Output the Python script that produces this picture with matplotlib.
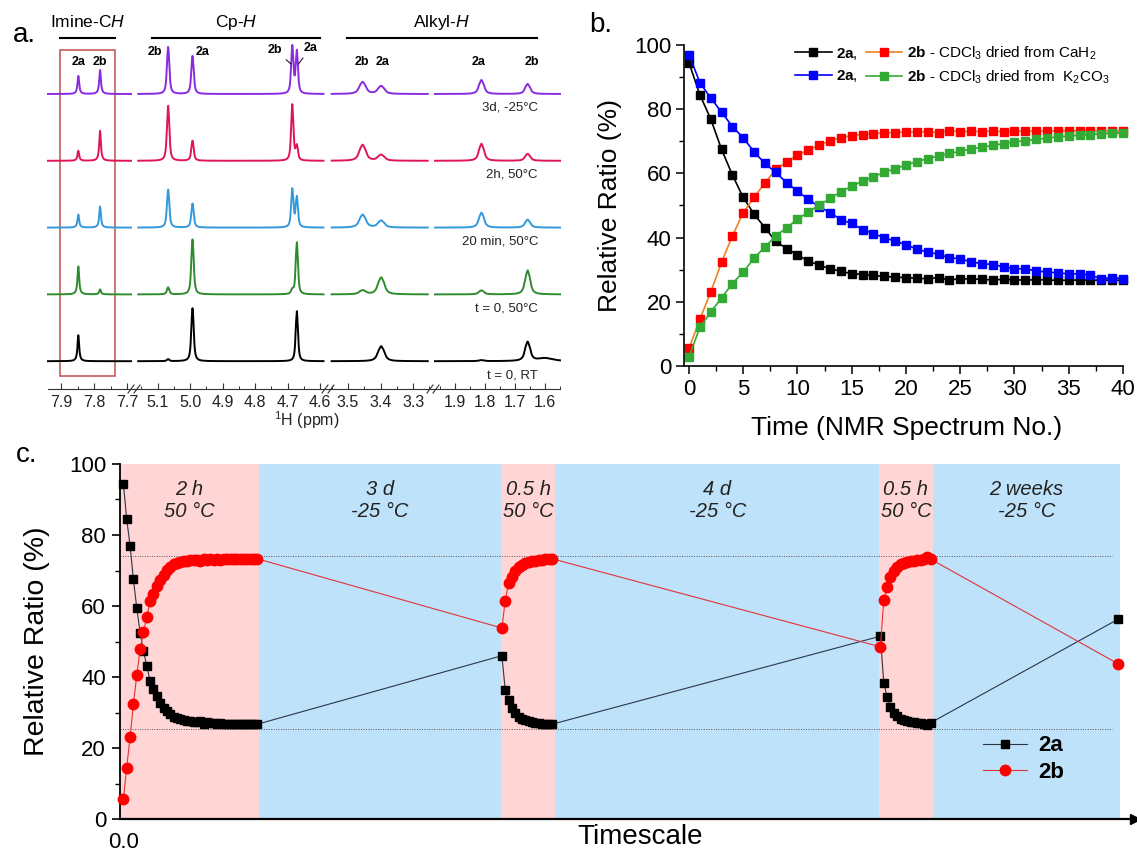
import numpy as np
import matplotlib
matplotlib.use('Agg')
import matplotlib.pyplot as plt
from matplotlib.lines import Line2D
from matplotlib.patches import Rectangle
from matplotlib.ticker import MultipleLocator, FormatStrFormatter

plt.rcParams['font.family'] = ['Liberation Sans', 'DejaVu Sans']
plt.rcParams['mathtext.fontset'] = 'custom'
plt.rcParams['mathtext.rm'] = 'Liberation Sans'
plt.rcParams['mathtext.it'] = 'Liberation Sans:italic'
plt.rcParams['mathtext.bf'] = 'Liberation Sans:bold'

# ---------------- panel a: 1H NMR peak list ----------------
peak_ppm = [7.848, 7.782, 5.068, 4.993, 4.686, 4.672, 3.455, 3.398, 1.812, 1.658, 1.600]
peak_width = [0.003, 0.003, 0.0028, 0.0028, 0.0025, 0.0025, 0.007, 0.007, 0.006, 0.006, 0.03]
peak_split = [0, 0, 0.003, 0.003, 0.003, 0.003, 0.008, 0.008, 0.007, 0.007, 0]
# peak heights for each spectrum (top to bottom)
h_3d_m25 = [18, 24, 47, 38, 47, 42, 12, 8, 14, 10, 0]
h_2h_50 = [10, 30, 55, 20, 56, 14, 16, 6, 17, 7, 0]
h_20min_50 = [13, 21, 38, 24, 38, 30, 13, 7, 15, 8, 0]
h_t0_50 = [28, 5, 7, 55, 4, 52, 4, 17, 4, 24, 0]
h_t0_rt = [26, 0, 2, 53, 0, 50, 0, 15, 1, 19, 3]
spectra_heights = [h_3d_m25, h_2h_50, h_20min_50, h_t0_50, h_t0_rt]
spectra_labels = ['3d, -25°C', '2h, 50°C', '20 min, 50°C', 't = 0, 50°C', 't = 0, RT']
spectra_colors = ['#8A2BE2', '#E0145A', '#3399DD', '#2E8B2E', '#000000']

# ---------------- panel b: NMR spectrum number series ----------------
spec_no = np.arange(41)
cah2_2a = [94.5, 84.5, 77.0, 67.5, 59.5, 52.5, 47.3, 43.1, 38.8, 36.6, 34.6, 32.7, 31.4,
           30.3, 29.5, 28.8, 28.5, 28.2, 27.9, 27.7, 27.5, 27.3, 27.2, 27.5, 26.8, 27.2,
           27.1, 27.0, 26.8, 27.0, 26.9, 26.7, 26.9, 26.8, 26.7, 26.7, 26.8, 26.7, 26.8,
           26.7, 26.7]
cah2_2b = [5.5, 14.5, 23.0, 32.3, 40.5, 47.8, 52.6, 57.0, 61.3, 63.5, 65.7, 67.3, 68.8,
           70.2, 71.1, 71.8, 72.1, 72.4, 72.6, 72.7, 72.9, 72.9, 73.0, 72.7, 73.3, 73.0,
           73.1, 73.0, 73.2, 73.0, 73.1, 73.3, 73.1, 73.2, 73.3, 73.3, 73.2, 73.3, 73.2,
           73.3, 73.3]
k2co3_2a = [97.0, 88.3, 83.5, 79.1, 74.6, 71.1, 66.7, 63.1, 60.3, 57.1, 54.5, 51.9, 49.6,
            47.8, 45.6, 44.4, 42.5, 41.2, 40.0, 38.9, 37.8, 36.4, 35.5, 34.8, 33.7, 33.4,
            32.4, 31.9, 31.6, 30.9, 30.3, 30.3, 29.6, 29.3, 29.0, 28.7, 28.7, 28.3, 27.2,
            27.5, 27.2]
k2co3_2b = [2.8, 12.0, 16.8, 21.2, 25.7, 29.3, 33.6, 37.1, 40.5, 43.1, 45.7, 48.0, 50.1,
            52.2, 54.3, 56.0, 57.6, 59.0, 60.3, 61.5, 62.6, 63.7, 64.6, 65.4, 66.2, 66.9,
            67.6, 68.2, 68.7, 69.3, 69.8, 70.2, 70.6, 71.0, 71.4, 71.6, 71.9, 72.1, 72.4,
            72.5, 72.7]

# ---------------- panel c: heating / cooling cycles ----------------
cycle2_start, cycle3_start, final_time = 113, 226, 297
cycle2_2a = [46.0, 36.4, 33.5, 31.2, 29.8, 28.8, 28.2, 27.8, 27.5, 27.3, 27.1, 27.0, 26.9,
             26.8, 26.7, 26.7]
cycle2_2b = [53.8, 61.5, 66.4, 68.3, 70.0, 71.0, 71.6, 72.1, 72.4, 72.6, 72.8, 72.9, 73.0,
             73.1, 73.2, 73.3]
cycle3_2a = [51.5, 38.3, 34.4, 31.6, 30.0, 29.0, 28.3, 27.8, 27.5, 27.3, 27.2, 27.1, 27.0,
             26.9, 26.4, 27.1]
cycle3_2b = [48.5, 61.7, 65.4, 68.2, 70.0, 71.0, 71.7, 72.2, 72.5, 72.7, 72.8, 72.9, 73.0,
             73.1, 73.7, 73.2]
final_2a, final_2b = 56.3, 43.7
band_edges = [-1, 40.6, 112.6, 129.0, 225.6, 241.6, 297.6]
band_labels = ['2 h\n50 °C', '3 d\n-25 °C', '0.5 h\n50 °C', '4 d\n-25 °C',
               '0.5 h\n50 °C', '2 weeks\n-25 °C']
equilibrium_levels = [74.2, 25.4]

W, H = 1137, 855
fig = plt.figure(figsize=(W / 100, H / 100), dpi=100)


def px_axes(x0, y0, x1, y1):
    return fig.add_axes([x0 / W, 1 - y1 / H, (x1 - x0) / W, (y1 - y0) / H])


def fxy(x, y):
    return x / W, 1 - y / H


def line_shape(x, x0, w, split):
    comps = [(-split, 0.55), (0.0, 1.0), (split, 0.55)] if split > 0 else [(0.0, 1.0)]
    y = sum(a * w ** 2 / ((x - x0 - d) ** 2 + w ** 2) for d, a in comps)
    y0 = sum(a * w ** 2 / (d ** 2 + w ** 2) for d, a in comps)
    return y / y0


# ================= panel a =================
seg_px = [(48, 134), (134, 330), (330, 432), (432, 560)]
seg_lim = [(7.94, 7.679), (5.173, 4.57), (3.555, 3.242), (1.977, 1.55)]
seg_data = [(7.94, 7.688), (5.16, 4.59), (3.55, 3.255), (1.967, 1.55)]
a_top, a_bot = 45, 389
seg_axes = []
for (x0, x1), lim, (d0, d1) in zip(seg_px, seg_lim, seg_data):
    ax = px_axes(x0, a_top, x1, a_bot)
    ax.set_xlim(*lim)
    ax.set_ylim(0, a_bot - a_top)
    ax.patch.set_alpha(0)
    for s in ['top', 'left', 'right']:
        ax.spines[s].set_visible(False)
    ax.spines['bottom'].set_linewidth(0.8)
    ax.spines['bottom'].set_color('#333333')
    ax.set_yticks([])
    ax.xaxis.set_major_locator(MultipleLocator(0.1))
    ax.xaxis.set_minor_locator(MultipleLocator(0.05))
    ax.xaxis.set_major_formatter(FormatStrFormatter('%.1f'))
    ax.tick_params(axis='x', which='major', direction='in', length=4, width=0.8,
                   labelsize=11.5, pad=4, colors='#333333', labelcolor='#222222')
    ax.tick_params(axis='x', which='minor', direction='in', length=2, width=0.7,
                   colors='#333333')
    x = np.linspace(d0, d1, 4000)
    for k, heights in enumerate(spectra_heights):
        offset = 295 - 66.8 * k
        y = np.zeros_like(x)
        for p, w, sp, h in zip(peak_ppm, peak_width, peak_split, heights):
            if h > 0:
                y += h * line_shape(x, p, w, sp)
        ax.plot(x, y + offset, color=spectra_colors[k], lw=1.4, clip_on=False)
    seg_axes.append(ax)

# axis breaks
for xb in [134, 328, 433]:
    for dx in (-3, 3):
        fig.add_artist(Line2D([(xb + dx - 3) / W, (xb + dx + 3) / W],
                              [1 - (a_bot + 4) / H, 1 - (a_bot - 4) / H],
                              color='#333333', lw=0.8))

# group headers
for label, (gx0, gx1) in zip(['Imine-C$\\mathit{H}$', 'Cp-$\\mathit{H}$', 'Alkyl-$\\mathit{H}$'],
                             [(60, 115), (152, 320), (347, 537)]):
    fig.add_artist(Line2D([gx0 / W, gx1 / W], [1 - 38 / H] * 2, color='k', lw=1.5))
    fig.text(*fxy((gx0 + gx1) / 2, 22), label, ha='center', va='center', fontsize=12.5)

# red box around the imine region
seg_axes[0].add_patch(Rectangle((7.736, 389 - 376), 7.903 - 7.736, 376 - 50, fill=False,
                                ec='#C0504D', lw=1.1, clip_on=False))

# peak labels
peak_tags = [(0, 7.848, 62, '2a'), (0, 7.782, 62, '2b'), (1, 5.109, 52, '2b'),
             (1, 4.962, 52, '2a'), (2, 3.458, 62, '2b'), (2, 3.394, 62, '2a'),
             (3, 1.823, 62, '2a'), (3, 1.643, 62, '2b')]
for si, ppm, ypx, t in peak_tags:
    seg_axes[si].text(ppm, a_bot - ypx, t, ha='center', va='center', fontsize=9,
                      fontweight='bold')
seg_axes[1].annotate('2b', xy=(4.690, a_bot - 64), xytext=(4.739, a_bot - 50),
                     ha='center', va='center', fontsize=9, fontweight='bold',
                     arrowprops=dict(arrowstyle='-', lw=0.7, color='k', shrinkA=1, shrinkB=0))
seg_axes[1].annotate('2a', xy=(4.667, a_bot - 64), xytext=(4.630, a_bot - 48),
                     ha='center', va='center', fontsize=9, fontweight='bold',
                     arrowprops=dict(arrowstyle='-', lw=0.7, color='k', shrinkA=1, shrinkB=0))

for k, lab in enumerate(spectra_labels):
    fig.text(*fxy(538, 108 + 66.8 * k), lab, ha='right', va='center', fontsize=9.5,
             color='#222222')
fig.text(*fxy(307, 420), '$^1$H (ppm)', ha='center', va='center', fontsize=11.5,
         color='#222222')
fig.text(*fxy(24, 35), 'a.', ha='center', va='center', fontsize=20)

# ================= panel b =================
axb = px_axes(684, 45, 1123, 366)
mk = dict(marker='s', ms=5.5, lw=1.2, clip_on=False)
axb.plot(spec_no, cah2_2a, color='k', mfc='k', mec='k', **mk)
axb.plot(spec_no, cah2_2b, color='#F08020', mfc='#FF0000', mec='#FF0000', **mk)
axb.plot(spec_no, k2co3_2a, color='#0000FF', mfc='#0000FF', mec='#0000FF', **mk)
axb.plot(spec_no, k2co3_2b, color='#33AA33', mfc='#33AA33', mec='#33AA33', **mk)
axb.set_xlim(-0.46, 40)
axb.set_ylim(0, 100)
axb.spines['top'].set_visible(False)
axb.spines['right'].set_visible(False)
for s in ['left', 'bottom']:
    axb.spines[s].set_linewidth(1.2)
axb.xaxis.set_major_locator(MultipleLocator(5))
axb.xaxis.set_minor_locator(MultipleLocator(2.5))
axb.yaxis.set_major_locator(MultipleLocator(20))
axb.yaxis.set_minor_locator(MultipleLocator(10))
axb.tick_params(which='major', direction='out', length=6, width=1.1, labelsize=16, pad=3)
axb.tick_params(which='minor', direction='out', length=3.5, width=1.0)
axb.set_xlabel('Time (NMR Spectrum No.)', fontsize=19)
axb.xaxis.label.set_va('center')
axb.xaxis.set_label_coords((907 - 684) / 439, (366 - 428) / 321)
axb.set_ylabel('Relative Ratio (%)', fontsize=19)
axb.yaxis.label.set_va('center')
axb.yaxis.set_label_coords((610 - 684) / 439, 0.5)
hb = [Line2D([], [], color='k', mfc='k', mec='k', marker='s', ms=5.5, lw=1.2),
      Line2D([], [], color='#0000FF', mfc='#0000FF', mec='#0000FF', marker='s', ms=5.5, lw=1.2),
      Line2D([], [], color='#F08020', mfc='#FF0000', mec='#FF0000', marker='s', ms=5.5, lw=1.2),
      Line2D([], [], color='#33AA33', mfc='#33AA33', mec='#33AA33', marker='s', ms=5.5, lw=1.2)]
lb = ['$\\mathbf{2a}$,', '$\\mathbf{2a}$,',
      '$\\mathbf{2b}$ - CDCl$_3$ dried from CaH$_2$',
      '$\\mathbf{2b}$ - CDCl$_3$ dried from  K$_2$CO$_3$']
axb.legend(hb, lb, ncol=2, loc='upper right', bbox_to_anchor=(0.99, 1.03), frameon=False,
           fontsize=11, handlelength=2.4, handletextpad=0.3, columnspacing=0.5,
           labelspacing=0.45, borderpad=0.1)
fig.text(*fxy(601, 25), 'b.', ha='center', va='center', fontsize=20)

# ================= panel c =================
axc = px_axes(120, 464, 1135, 819)
band_colors = ['#FFD5D5', '#BEE2FA']
for i in range(len(band_edges) - 1):
    axc.axvspan(band_edges[i], band_edges[i + 1], color=band_colors[i % 2], lw=0, zorder=0)
    axc.text((band_edges[i] + band_edges[i + 1]) / 2, 89.8, band_labels[i], ha='center',
             va='center', fontsize=14.5, style='italic', color='#222222', linespacing=1.2)
for lvl in equilibrium_levels:
    axc.hlines(lvl, -1, 295, colors='#555555', linestyles=(0, (1, 1.5)), lw=0.7, zorder=1)

t_c = np.concatenate([spec_no, cycle2_start + np.arange(len(cycle2_2a)),
                      cycle3_start + np.arange(len(cycle3_2a)), [final_time]])
c_2a = np.concatenate([cah2_2a, cycle2_2a, cycle3_2a, [final_2a]])
c_2b = np.concatenate([cah2_2b, cycle2_2b, cycle3_2b, [final_2b]])
axc.plot(t_c, c_2a, color='#2A3645', lw=0.8, marker='s', ms=6.3, mfc='k', mec='k',
         zorder=3, clip_on=False, label='2a')
axc.plot(t_c, c_2b, color='#E03535', lw=0.8, marker='o', ms=7.5, mfc='#FF0000',
         mec='#FF0000', zorder=4, clip_on=False, label='2b')
axc.set_xlim(-1, 302)
axc.set_ylim(0, 100)
axc.spines['top'].set_visible(False)
axc.spines['right'].set_visible(False)
axc.spines['left'].set_linewidth(1.3)
axc.spines['bottom'].set_linewidth(1.6)
axc.plot(1, 0, '>k', ms=7, transform=axc.get_yaxis_transform(), clip_on=False)
axc.yaxis.set_major_locator(MultipleLocator(20))
axc.yaxis.set_minor_locator(MultipleLocator(10))
axc.set_xticks([0])
axc.set_xticklabels(['0.0'])
axc.tick_params(axis='x', length=0, labelsize=16, pad=9)
axc.tick_params(axis='y', which='major', direction='out', length=6, width=1.2,
                labelsize=16, pad=4)
axc.tick_params(axis='y', which='minor', direction='out', length=3.5, width=1.0)
axc.set_xlabel('Timescale', fontsize=20)
axc.xaxis.label.set_va('center')
axc.xaxis.set_label_coords((640 - 120) / 1015, (819 - 837) / 355)
axc.set_ylabel('Relative Ratio (%)', fontsize=20.5)
axc.yaxis.label.set_va('center')
axc.yaxis.set_label_coords((37 - 120) / 1015, 0.5)
axc.legend(loc='lower right', bbox_to_anchor=(0.95, 0.045), frameon=False,
           prop=dict(size=16, weight='bold'), handlelength=2.0, handletextpad=0.5,
           labelspacing=0.25)
fig.text(*fxy(27, 455), 'c.', ha='center', va='center', fontsize=20)

fig.savefig('out.png', dpi=100)
plt.close(fig)
